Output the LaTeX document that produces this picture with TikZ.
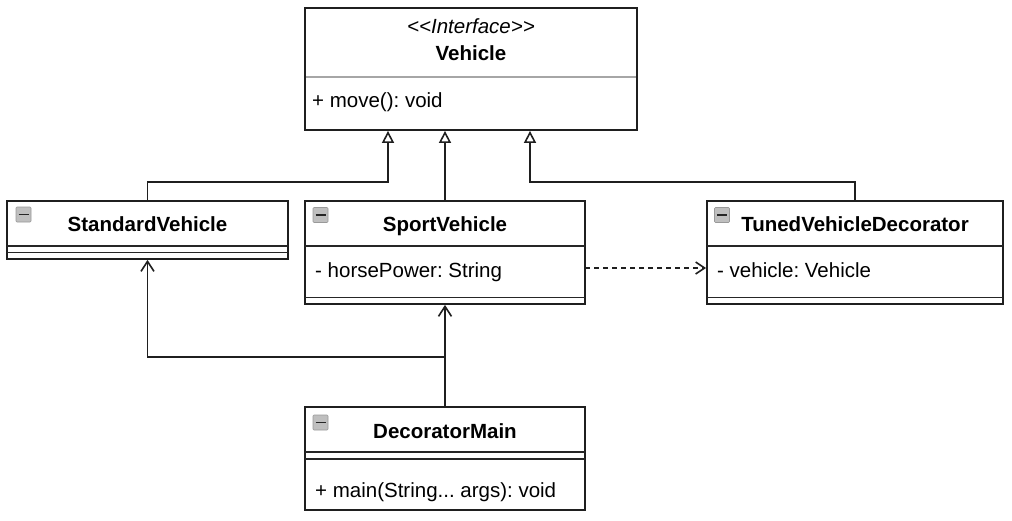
\documentclass[tikz,border=0pt]{standalone}
\usepackage{fontspec}
\setmainfont{Liberation Sans}[Ligatures=TeXOff]
\usetikzlibrary{arrows.meta}
\frenchspacing
\begin{document}
\begin{tikzpicture}[x=1pt,y=-1pt,
  font=\fontsize{20.5}{24}\selectfont\frenchspacing,
  box/.style={draw=black!88, line width=1.8pt, fill=white, inner sep=0pt},
  sepline/.style={draw=black!85, line width=1.5pt},
  lightsep/.style={draw=black!35, line width=1.8pt},
  txt/.style={inner sep=0pt, anchor=base west},
  ttl/.style={inner sep=0pt, anchor=base, font=\fontsize{20.5}{24}\selectfont\bfseries},
  icon/.style={draw=black!40, fill=black!25, line width=0.6pt, rounded corners=1pt,
    minimum size=15pt, inner sep=0pt,
    path picture={\draw[black!85, line width=1.4pt]
      ([xshift=2.5pt]path picture bounding box.west) --
      ([xshift=-2.5pt]path picture bounding box.east);}},
  conn/.style={draw=black!88, line width=1.6pt},
  inherit/.style={conn, -{Triangle[open, length=12pt, width=12pt, line width=1.6pt]}},
  assoc/.style={conn, -{Straight Barb[length=10pt, width=13pt, line width=1.6pt]}},
  dep/.style={conn, dash pattern=on 5pt off 4pt, -{Straight Barb[length=9pt, width=12pt, line width=1.6pt]}}
]
\useasboundingbox (0,0) rectangle (1012,520);

% Vehicle interface
\node[box, minimum width=332pt, minimum height=122pt] (veh) at (471,69) {};
\draw[lightsep] (306,77) -- (636,77);
\node[ttl, font=\fontsize{20.5}{24}\selectfont\itshape] (vehS) at (471,33) {<<Interface>>};
\node[ttl] (vehN) at (471,60) {Vehicle};
\node[txt] (vehM) at (312,107) {+ move(): void};

% StandardVehicle
\node[box, minimum width=281pt, minimum height=58pt] (std) at (147.5,230) {};
\draw[sepline] (7,246) -- (288,246);
\draw[sepline] (7,252.5) -- (288,252.5);
\node[ttl] (stdN) at (147.5,231.5) {StandardVehicle};
\node[icon] (stdI) at (23.5,214.5) {};

% SportVehicle
\node[box, minimum width=280pt, minimum height=103pt] (sport) at (445,252.5) {};
\draw[sepline] (305,246) -- (585,246);
\draw[sepline] (305,297.5) -- (585,297.5);
\node[ttl] (sportN) at (445,231) {SportVehicle};
\node[txt] (sportA) at (315,277) {- horsePower: String};
\node[icon] (sportI) at (320.5,215) {};

% TunedVehicleDecorator
\node[box, minimum width=296pt, minimum height=103pt] (tuned) at (855,252.5) {};
\draw[sepline] (707,246) -- (1003,246);
\draw[sepline] (707,297.5) -- (1003,297.5);
\node[ttl] (tunedN) at (855,231.5) {TunedVehicleDecorator};
\node[txt] (tunedA) at (717,277) {- vehicle: Vehicle};
\node[icon] (tunedI) at (722,215) {};

% DecoratorMain
\node[box, minimum width=280pt, minimum height=103pt] (main) at (445,458.5) {};
\draw[sepline] (305,452) -- (585,452);
\draw[sepline] (305,459) -- (585,459);
\node[ttl] (mainN) at (445,438) {DecoratorMain};
\node[txt] (mainM) at (315,497) {+ main(String... args): void};
\node[icon] (mainI) at (320.5,422.5) {};

% connectors
\coordinate (k1) at (388,182);
\coordinate (k2) at (530,182);
\coordinate (k3) at (445,357);
\coordinate (d1) at (585,268);

\draw[inherit] (std.north) |- (k1) -- (k1 |- veh.south);
\draw[inherit] (sport.north) -- (sport.north |- veh.south);
\draw[inherit] (tuned.north) |- (k2) -- (k2 |- veh.south);

\draw[dep] (d1) -- (d1 -| tuned.west);

\draw[assoc] (main.north) -- (sport.south);
\draw[assoc] (k3) -| (std.south);
\end{tikzpicture}
\end{document}
